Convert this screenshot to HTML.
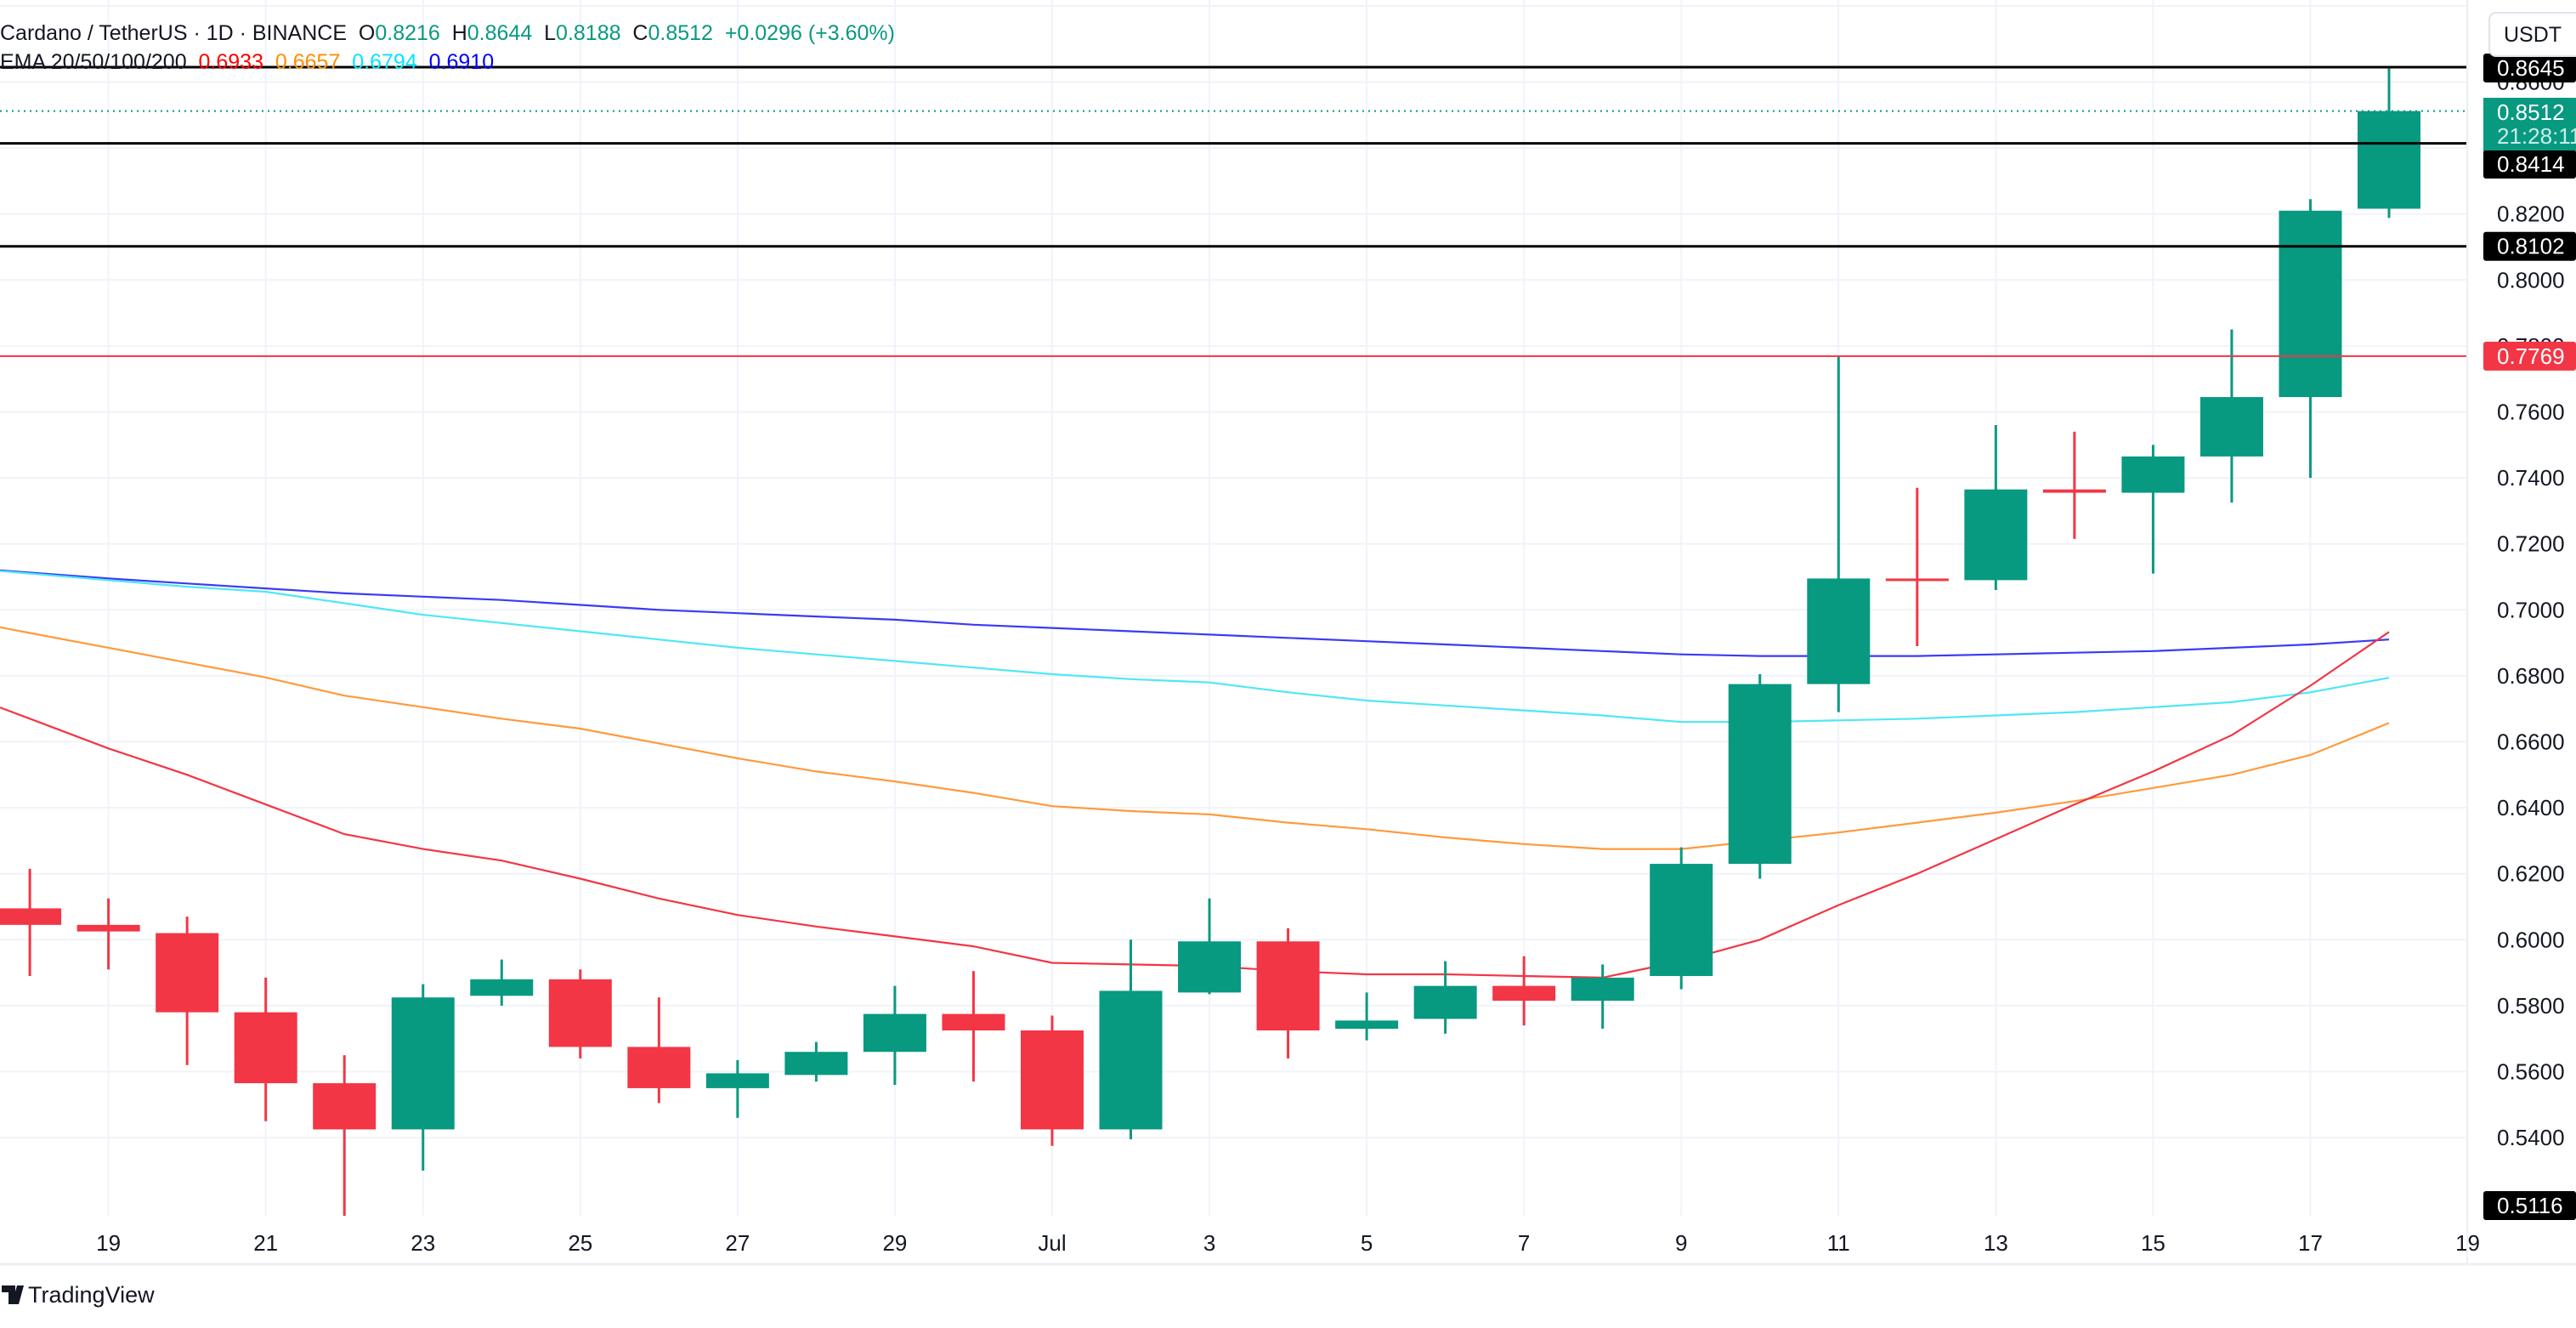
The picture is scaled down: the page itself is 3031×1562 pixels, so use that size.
<!DOCTYPE html>
<html><head><meta charset="utf-8"><style>
html,body{margin:0;padding:0;background:#fff;}
body{width:3031px;height:1557px;overflow:hidden;font-family:"Liberation Sans",sans-serif;}
svg text{font-family:"Liberation Sans",sans-serif;white-space:pre;}
</style></head><body>
<svg id="chart" width="3031" height="1557" xmlns="http://www.w3.org/2000/svg">
<defs><clipPath id="pane"><rect x="0" y="0" width="2903" height="1430"/></clipPath></defs>
<g id="grid"></g>
<g id="marks" clip-path="url(#pane)"></g>
<g id="axis"></g>
<g id="taxis"></g>
<line x1="0" y1="1487" x2="3031" y2="1487" stroke="#eef0f3" stroke-width="3"/>
<line x1="2903" y1="0" x2="2903" y2="1487" stroke="#eef0f3" stroke-width="2"/>
<g font-size="25">
<text x="0" y="47" fill="#131722" xml:space="preserve"><tspan>Cardano / TetherUS · 1D · BINANCE  O</tspan><tspan fill="#089981">0.8216</tspan><tspan>  H</tspan><tspan fill="#089981">0.8644</tspan><tspan>  L</tspan><tspan fill="#089981">0.8188</tspan><tspan>  C</tspan><tspan fill="#089981">0.8512  +0.0296 (+3.60%)</tspan></text>
<text x="0" y="81" fill="#131722" xml:space="preserve"><tspan>EMA 20/50/100/200  </tspan><tspan fill="#ff0000">0.6933</tspan><tspan>  </tspan><tspan fill="#ff8c00">0.6657</tspan><tspan>  </tspan><tspan fill="#00e5ff">0.6794</tspan><tspan>  </tspan><tspan fill="#0000ff">0.6910</tspan></text>
</g>
<g>
<rect x="2929" y="15" width="110" height="51" rx="8" fill="#fff" stroke="#e0e3eb" stroke-width="2"/>
<text x="2980" y="49" font-size="25" text-anchor="middle" fill="#131722">USDT</text>
</g>
<g>
<path d="M2 1512 h16 v22 h-8 v-14 h-8z M20 1512 h8 l-6 22 h-8z" fill="#131722"/>
<text x="33" y="1532" font-size="27" fill="#131722">TradingView</text>
</g>
</svg>
<script>
const days = ["Jun18","Jun19","Jun20","Jun21","Jun22","Jun23","Jun24","Jun25","Jun26","Jun27","Jun28","Jun29","Jun30","Jul1","Jul2","Jul3","Jul4","Jul5","Jul6","Jul7","Jul8","Jul9","Jul10","Jul11","Jul12","Jul13","Jul14","Jul15","Jul16","Jul17","Jul18"];
const opens  = [0.6095,0.6045,0.602,0.578,0.5565,0.5425,0.583,0.588,0.5675,0.555,0.559,0.566,0.5775,0.5725,0.5425,0.584,0.5995,0.573,0.576,0.586,0.5815,0.589,0.623,0.6775,0.7095,0.709,0.7365,0.7355,0.7465,0.7645,0.8216];
const highs  = [0.6215,0.6125,0.607,0.5885,0.565,0.5865,0.594,0.591,0.5825,0.5635,0.569,0.586,0.5905,0.577,0.600,0.6125,0.6035,0.584,0.5935,0.595,0.5925,0.628,0.6805,0.777,0.737,0.756,0.754,0.750,0.785,0.8245,0.8644];
const lows   = [0.589,0.591,0.562,0.545,0.515,0.530,0.580,0.564,0.5505,0.546,0.557,0.556,0.557,0.5375,0.5395,0.5835,0.564,0.5695,0.5715,0.574,0.573,0.585,0.6185,0.669,0.689,0.706,0.7215,0.711,0.7325,0.740,0.8188];
const closes = [0.6045,0.6025,0.578,0.5565,0.5425,0.5825,0.588,0.5675,0.555,0.5595,0.566,0.5775,0.5725,0.5425,0.5845,0.5995,0.5725,0.5755,0.586,0.5815,0.5885,0.623,0.6775,0.7095,0.709,0.7365,0.7355,0.7465,0.7645,0.821,0.8512];
const ema20  = [0.667,0.658,0.650,0.641,0.632,0.6275,0.624,0.6185,0.6125,0.6075,0.604,0.601,0.598,0.593,0.5925,0.592,0.5905,0.5895,0.5895,0.589,0.5885,0.5935,0.600,0.6105,0.620,0.6305,0.641,0.651,0.662,0.677,0.6933];
const ema50  = [0.693,0.6885,0.684,0.6795,0.674,0.6705,0.667,0.664,0.6595,0.655,0.651,0.648,0.6445,0.6405,0.639,0.638,0.6355,0.6335,0.631,0.629,0.6275,0.6275,0.630,0.6325,0.6355,0.6385,0.642,0.646,0.650,0.656,0.6657];
const ema100 = [0.711,0.709,0.707,0.7055,0.702,0.6985,0.696,0.6935,0.691,0.6885,0.6865,0.6845,0.6825,0.6805,0.679,0.678,0.675,0.6725,0.671,0.6695,0.668,0.666,0.666,0.6665,0.667,0.668,0.669,0.6705,0.672,0.675,0.6794];
const ema200 = [0.7113,0.7095,0.708,0.7065,0.705,0.704,0.703,0.7015,0.700,0.699,0.698,0.697,0.6955,0.6945,0.6935,0.6925,0.6915,0.6905,0.6895,0.6885,0.6875,0.6865,0.686,0.686,0.686,0.6865,0.687,0.6875,0.6885,0.6895,0.691];
const priceTicks = [0.54,0.56,0.58,0.60,0.62,0.64,0.66,0.68,0.70,0.72,0.74,0.76,0.78,0.80,0.82,0.84,0.86];
const timeTickIdx = [1,3,5,7,9,11,13,15,17,19,21,23,25,27,29,31];
const timeTickLabels = ["19","21","23","25","27","29","Jul","3","5","7","9","11","13","15","17","19"];
const levels = [0.8645,0.8414,0.8102];
const resistance = 0.7769;
const lastPrice = 0.8512;

const NS="http://www.w3.org/2000/svg";
const xS = i => 35.1 + i*92.53;
const yS = p => 484.5 - (p-0.76)*3880;
function mk(tag, attrs, parent){const e=document.createElementNS(NS,tag);for(const k in attrs)e.setAttribute(k,attrs[k]);parent.appendChild(e);return e;}
const grid=document.getElementById('grid'), marks=document.getElementById('marks'), axis=document.getElementById('axis'), taxis=document.getElementById('taxis');
mk('line',{x1:0,y1:7,x2:2903,y2:7,stroke:'#f0f3fa','stroke-width':2},grid);
priceTicks.forEach(p=>{
  const l=mk('line',{x1:0,y1:yS(p),x2:2903,y2:yS(p),stroke:'#f0f3fa','stroke-width':2},grid);
  
  
  const t=mk('text',{x:2938,y:yS(p)+9,'font-size':26,fill:'#131722'},axis);
  t.textContent=p.toFixed(4);
  
  
});
timeTickIdx.forEach((d,k)=>{
  const l=mk('line',{x1:xS(d),y1:0,x2:xS(d),y2:1430,stroke:'#f0f3fa','stroke-width':2},grid);
  
  
  const t=mk('text',{x:xS(d),y:1471,'font-size':26,fill:'#131722','text-anchor':'middle'},taxis);
  t.textContent=timeTickLabels[k];
  
  
});
function line(vals,color,name){
  const x0=xS(0), y0=yS(vals[0]), y1=yS(vals[1]);
  const ys=y0-(y1-y0)*(x0/92.53);
  let pts='0,'+ys.toFixed(1)+' '+vals.map((v,i)=>xS(i).toFixed(1)+','+yS(v).toFixed(1)).join(' ');
  const pl=mk('polyline',{points:pts,fill:'none',stroke:color,'stroke-width':2.2},marks);
  
  
}
line(ema200,'#3b3bf5','ema-200-line');
line(ema100,'#4ee8f5','ema-100-line');
line(ema50,'#ff9a3c','ema-50-line');
line(ema20,'#f23645','ema-20-line');
days.forEach((d,i)=>{
  const up=closes[i]>=opens[i], c=up?'#089981':'#f23645';
  const g=mk('g',{},marks);
  
  
  mk('line',{x1:xS(i),x2:xS(i),y1:yS(highs[i]),y2:yS(lows[i]),stroke:c,'stroke-width':3},g);
  const top=yS(Math.max(opens[i],closes[i])), bot=yS(Math.min(opens[i],closes[i]));
  mk('rect',{x:xS(i)-37,y:top,width:74,height:Math.max(3,bot-top),fill:c},g);
});
levels.forEach(p=>{
  const l=mk('line',{x1:0,x2:2903,y1:yS(p),y2:yS(p),stroke:'#000','stroke-width':3},marks);
  
  
});
const rl=mk('line',{x1:0,x2:2903,y1:yS(resistance),y2:yS(resistance),stroke:'#f23645','stroke-width':2},marks);


const ll=mk('line',{x1:0,x2:2903,y1:yS(lastPrice),y2:yS(lastPrice),stroke:'#089981','stroke-width':2,'stroke-dasharray':'2 5'},marks);


function badge(p,bg,name,yc){
  const y=yc!==undefined?yc:yS(p);
  const g=mk('g',{},axis);
  
  
  mk('rect',{x:2922,y:y-17,width:109,height:34,rx:3,fill:bg},g);
  const t=mk('text',{x:2938,y:y+9,'font-size':26,fill:'#fff'},g);
  t.textContent=p.toFixed(4);
}
badge(0.8645,'#000','level-label-08645',80);
badge(0.8414,'#000','level-label-08414',193);
badge(0.8102,'#000','level-label-08102');
badge(resistance,'#f23645','resistance-label');
badge(0.5116,'#000','low-label',1418);
const lg=mk('g',{},axis);


mk('rect',{x:2922,y:115,width:109,height:62,fill:'#089981'},lg);
const t1=mk('text',{x:2938,y:141,'font-size':26,fill:'#fff'},lg); t1.textContent=lastPrice.toFixed(4);
const t2=mk('text',{x:2938,y:169,'font-size':26,fill:'#c9eee6'},lg); t2.textContent='21:28:11';
</script>
</body></html>
